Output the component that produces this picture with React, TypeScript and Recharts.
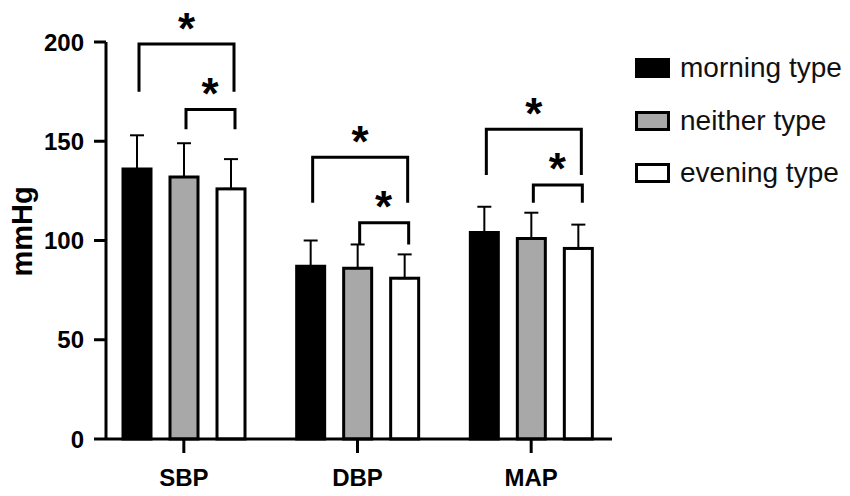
import { BarChart, Bar, XAxis, YAxis, ErrorBar, Label } from 'recharts'

// mean blood pressure (mmHg) by chronotype
const categories = ['SBP', 'DBP', 'MAP']
const morning = [136, 87, 104]
const neither = [132, 86, 101]
const evening = [126, 81, 96]
const morningSd = [17, 13, 13]
const neitherSd = [17, 12, 13]
const eveningSd = [15, 12, 12]

// significance brackets (mmHg): morning vs evening, neither vs evening
const wideTop = [199, 142, 156]
const wideFoot = [175, 119, 133]
const narrowTop = [166, 109, 128]
const narrowFoot = [156, 98, 119]

const yTicks = [0, 50, 100, 150, 200]

const seriesNames = ['morning type', 'neither type', 'evening type']
const seriesFills = ['#000000', '#a8a8a8', '#ffffff']

const data = categories.map((name, i) => ({
  name,
  morning: morning[i],
  neither: neither[i],
  evening: evening[i],
  morningErr: [0, morningSd[i]],
  neitherErr: [0, neitherSd[i]],
  eveningErr: [0, eveningSd[i]],
}))

const FONT = 'Liberation Sans, Arial, sans-serif'
const BAR_SIZE = 28
const BAR_GAP = 19
const STAR_SIZE = 44

const Star = ({ x, y }: { x: number; y: number }) => (
  <text
    x={x}
    y={y + STAR_SIZE * 0.58}
    textAnchor="middle"
    fontSize={STAR_SIZE}
    fontWeight="bold"
    fontFamily={FONT}
    fill="#000"
  >
    *
  </text>
)

// last bar of each group also draws the brackets over the group
const EveningShape = (props: any) => {
  const { x, y, width, height, index, fill, stroke, strokeWidth } = props
  const value = evening[index]
  const base = y + height
  const k = height / value
  const py = (v: number) => base - v * k
  const cx = x + width / 2
  const pitch = BAR_SIZE + BAR_GAP
  const xBlack = cx - 2 * pitch + 2
  const xGray = cx - pitch + 2
  const xWhite = cx + 3

  return (
    <g>
      <rect x={x} y={y} width={width} height={height} fill={fill} stroke={stroke} strokeWidth={strokeWidth} />
      <path
        d={`M${xBlack},${py(wideFoot[index])} V${py(wideTop[index])} H${xWhite} V${py(wideFoot[index])}`}
        fill="none"
        stroke="#000"
        strokeWidth={3}
      />
      <path
        d={`M${xGray},${py(narrowFoot[index])} V${py(narrowTop[index])} H${xWhite + 1} V${py(narrowFoot[index])}`}
        fill="none"
        stroke="#000"
        strokeWidth={3}
      />
      <Star x={(xBlack + xWhite) / 2} y={py(wideTop[index]) - 26} />
      <Star x={(xGray + xWhite) / 2} y={py(narrowTop[index]) - 26} />
    </g>
  )
}

const ChartLegend = () => (
  <div style={{ position: 'absolute', left: 635, top: 42, fontFamily: FONT }}>
    {seriesNames.map((name, i) => (
      <div key={name} style={{ display: 'flex', alignItems: 'center', height: 52.5 }}>
        <div
          style={{
            width: 35,
            height: 20,
            boxSizing: 'border-box',
            border: '3px solid #000',
            background: seriesFills[i],
          }}
        />
        <span style={{ marginLeft: 10, fontSize: 28, color: '#111', whiteSpace: 'nowrap' }}>{name}</span>
      </div>
    ))}
  </div>
)

export default function App() {
  return (
    <div style={{ position: 'absolute', left: 0, top: 0, width: 850, height: 496, background: '#fff' }}>
      <BarChart
        width={850}
        height={496}
        data={data}
        margin={{ top: 42, right: 238, bottom: 0, left: 0 }}
        barSize={BAR_SIZE}
        barGap={BAR_GAP}
      >
        <XAxis
          dataKey="name"
          padding={{ left: -9, right: -6 }}
          axisLine={{ stroke: '#000', strokeWidth: 3 }}
          tickLine={{ stroke: '#000', strokeWidth: 3 }}
          tickSize={14}
          tickMargin={16}
          height={57}
          tick={{ fontSize: 24, fontWeight: 'bold', fill: '#000', fontFamily: FONT }}
        />
        <YAxis
          domain={[0, 200]}
          ticks={yTicks}
          width={106}
          axisLine={{ stroke: '#000', strokeWidth: 3 }}
          tickLine={{ stroke: '#000', strokeWidth: 3 }}
          tickSize={12}
          tickMargin={10}
          tick={{ fontSize: 24, fontWeight: 'bold', fill: '#000', fontFamily: FONT }}
        >
          <Label
            content={(p: any) => {
              const vb = p.viewBox || { x: 0, y: 42, height: 397 }
              const lx = vb.x + 22
              const ly = vb.y + vb.height / 2 - 9
              return (
                <text
                  x={lx}
                  y={ly}
                  transform={`rotate(-90 ${lx} ${ly})`}
                  textAnchor="middle"
                  dominantBaseline="central"
                  fontSize={29}
                  fontWeight="bold"
                  fontFamily={FONT}
                  fill="#000"
                >
                  mmHg
                </text>
              )
            }}
          />
        </YAxis>
        <Bar dataKey="morning" name={seriesNames[0]} fill={seriesFills[0]} stroke="#000" strokeWidth={3} isAnimationActive={false}>
          <ErrorBar dataKey="morningErr" width={7} stroke="#000" strokeWidth={2} direction="y" />
        </Bar>
        <Bar dataKey="neither" name={seriesNames[1]} fill={seriesFills[1]} stroke="#000" strokeWidth={3} isAnimationActive={false}>
          <ErrorBar dataKey="neitherErr" width={7} stroke="#000" strokeWidth={2} direction="y" />
        </Bar>
        <Bar
          dataKey="evening"
          name={seriesNames[2]}
          fill={seriesFills[2]}
          stroke="#000"
          strokeWidth={3}
          shape={<EveningShape />}
          isAnimationActive={false}
        >
          <ErrorBar dataKey="eveningErr" width={7} stroke="#000" strokeWidth={2} direction="y" />
        </Bar>
      </BarChart>
      <ChartLegend />
    </div>
  )
}
